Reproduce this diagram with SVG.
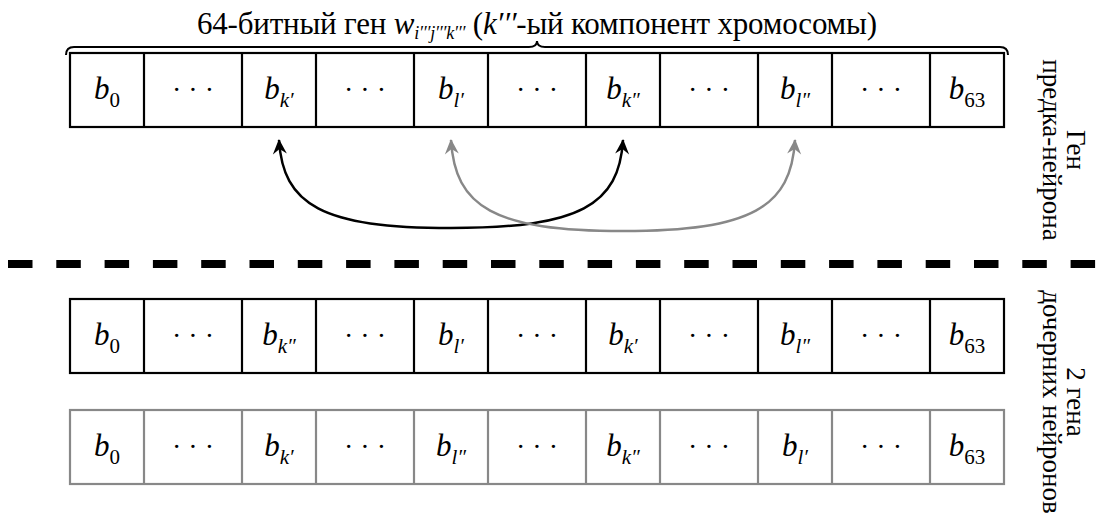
<svg xmlns="http://www.w3.org/2000/svg" width="1098" height="526" viewBox="0 0 1098 526">
<defs>
<marker id="ahb" markerUnits="userSpaceOnUse" markerWidth="20" markerHeight="20" viewBox="-16 -10 20 20" refX="0" refY="0" orient="auto-start-reverse">
<path d="M1,0 L-14,-7 L-9,0 L-14,7 Z" fill="#000"/>
</marker>
<marker id="ahg" markerUnits="userSpaceOnUse" markerWidth="20" markerHeight="20" viewBox="-16 -10 20 20" refX="0" refY="0" orient="auto-start-reverse">
<path d="M1,0 L-14,-7 L-9,0 L-14,7 Z" fill="#888"/>
</marker>
</defs>
<rect width="1098" height="526" fill="#fff"/>

<g id="title">
<text x="537" y="34" font-family="Liberation Serif" font-size="31" text-anchor="middle" textLength="680" lengthAdjust="spacing">64-битный ген <tspan font-style="italic">w</tspan><tspan font-style="italic" font-size="18" dy="5">i′′′j′′′k′′′</tspan><tspan dy="-5"> (</tspan><tspan font-style="italic">k′′′</tspan>-ый компонент хромосомы)</text>
<path d="M66,55 Q66,47 74,47 L529,47 Q537,47 537,41 Q537,47 545,47 L1000,47 Q1008,47 1008,55" fill="none" stroke="#000" stroke-width="2"/>
</g>

<g id="parent" stroke="#000" stroke-width="2.2">
<rect x="70" y="53" width="934" height="74" fill="#fff"/>
<path fill="none" d="M144,53V127M242,53V127M316,53V127M414,53V127M488,53V127M586,53V127M660,53V127M758,53V127M832,53V127M930,53V127"/>
</g>
<g id="parent-labels" text-anchor="middle">
<text x="107" y="99" font-family="Liberation Serif" font-size="31"><tspan font-style="italic">b</tspan><tspan font-size="21" dy="8">0</tspan></text>
<text x="279" y="99" font-family="Liberation Serif" font-size="31"><tspan font-style="italic">b</tspan><tspan font-style="italic" font-size="21" dy="8">k′</tspan></text>
<text x="451" y="99" font-family="Liberation Serif" font-size="31"><tspan font-style="italic">b</tspan><tspan font-style="italic" font-size="21" dy="8">l′</tspan></text>
<text x="623" y="99" font-family="Liberation Serif" font-size="31"><tspan font-style="italic">b</tspan><tspan font-style="italic" font-size="21" dy="8">k″</tspan></text>
<text x="795" y="99" font-family="Liberation Serif" font-size="31"><tspan font-style="italic">b</tspan><tspan font-style="italic" font-size="21" dy="8">l″</tspan></text>
<text x="967" y="99" font-family="Liberation Serif" font-size="31"><tspan font-style="italic">b</tspan><tspan font-size="21" dy="8">63</tspan></text>
<text x="193" y="99" font-family="Liberation Serif" font-size="28">· · ·</text>
<text x="365" y="99" font-family="Liberation Serif" font-size="28">· · ·</text>
<text x="537" y="99" font-family="Liberation Serif" font-size="28">· · ·</text>
<text x="709" y="99" font-family="Liberation Serif" font-size="28">· · ·</text>
<text x="881" y="99" font-family="Liberation Serif" font-size="28">· · ·</text>
</g>

<g id="child1" stroke="#000" stroke-width="2.2">
<rect x="70" y="299" width="934" height="74" fill="#fff"/>
<path fill="none" d="M144,299V373M242,299V373M316,299V373M414,299V373M488,299V373M586,299V373M660,299V373M758,299V373M832,299V373M930,299V373"/>
</g>
<g id="child1-labels" text-anchor="middle">
<text x="107" y="345" font-family="Liberation Serif" font-size="31"><tspan font-style="italic">b</tspan><tspan font-size="21" dy="8">0</tspan></text>
<text x="279" y="345" font-family="Liberation Serif" font-size="31"><tspan font-style="italic">b</tspan><tspan font-style="italic" font-size="21" dy="8">k″</tspan></text>
<text x="451" y="345" font-family="Liberation Serif" font-size="31"><tspan font-style="italic">b</tspan><tspan font-style="italic" font-size="21" dy="8">l′</tspan></text>
<text x="623" y="345" font-family="Liberation Serif" font-size="31"><tspan font-style="italic">b</tspan><tspan font-style="italic" font-size="21" dy="8">k′</tspan></text>
<text x="795" y="345" font-family="Liberation Serif" font-size="31"><tspan font-style="italic">b</tspan><tspan font-style="italic" font-size="21" dy="8">l″</tspan></text>
<text x="967" y="345" font-family="Liberation Serif" font-size="31"><tspan font-style="italic">b</tspan><tspan font-size="21" dy="8">63</tspan></text>
<text x="193" y="345" font-family="Liberation Serif" font-size="28">· · ·</text>
<text x="365" y="345" font-family="Liberation Serif" font-size="28">· · ·</text>
<text x="537" y="345" font-family="Liberation Serif" font-size="28">· · ·</text>
<text x="709" y="345" font-family="Liberation Serif" font-size="28">· · ·</text>
<text x="881" y="345" font-family="Liberation Serif" font-size="28">· · ·</text>
</g>

<g id="child2" stroke="#888" stroke-width="2.2">
<rect x="70" y="410" width="934" height="74" fill="#fff"/>
<path fill="none" d="M144,410V484M242,410V484M316,410V484M414,410V484M488,410V484M586,410V484M660,410V484M758,410V484M832,410V484M930,410V484"/>
</g>
<g id="child2-labels" text-anchor="middle">
<text x="107" y="456" font-family="Liberation Serif" font-size="31"><tspan font-style="italic">b</tspan><tspan font-size="21" dy="8">0</tspan></text>
<text x="279" y="456" font-family="Liberation Serif" font-size="31"><tspan font-style="italic">b</tspan><tspan font-style="italic" font-size="21" dy="8">k′</tspan></text>
<text x="451" y="456" font-family="Liberation Serif" font-size="31"><tspan font-style="italic">b</tspan><tspan font-style="italic" font-size="21" dy="8">l″</tspan></text>
<text x="623" y="456" font-family="Liberation Serif" font-size="31"><tspan font-style="italic">b</tspan><tspan font-style="italic" font-size="21" dy="8">k″</tspan></text>
<text x="795" y="456" font-family="Liberation Serif" font-size="31"><tspan font-style="italic">b</tspan><tspan font-style="italic" font-size="21" dy="8">l′</tspan></text>
<text x="967" y="456" font-family="Liberation Serif" font-size="31"><tspan font-style="italic">b</tspan><tspan font-size="21" dy="8">63</tspan></text>
<text x="193" y="456" font-family="Liberation Serif" font-size="28">· · ·</text>
<text x="365" y="456" font-family="Liberation Serif" font-size="28">· · ·</text>
<text x="537" y="456" font-family="Liberation Serif" font-size="28">· · ·</text>
<text x="709" y="456" font-family="Liberation Serif" font-size="28">· · ·</text>
<text x="881" y="456" font-family="Liberation Serif" font-size="28">· · ·</text>
</g>

<g id="connectors" fill="none" stroke-width="2.5">
<path stroke="#000" d="M279,140 C283,205 322,228 451,228 C580,228 619,205 623,140" marker-start="url(#ahb)" marker-end="url(#ahb)"/>
<path stroke="#888" d="M451,140 C455,207 494,231 623,231 C752,231 791,207 795,140" marker-start="url(#ahg)" marker-end="url(#ahg)"/>
</g>

<g id="separator">
<path d="M8,264 H1098" stroke="#000" stroke-width="8" stroke-dasharray="24.5 23.8" fill="none"/>
</g>

<g id="label-parent" text-anchor="middle">
<text font-family="Liberation Serif" font-size="27" transform="translate(1067,150) rotate(90)">Ген</text>
<text font-family="Liberation Serif" font-size="27" transform="translate(1043,150) rotate(90)">предка-нейрона</text>
</g>
<g id="label-children" text-anchor="middle">
<text font-family="Liberation Serif" font-size="27" transform="translate(1067,402) rotate(90)">2 гена</text>
<text font-family="Liberation Serif" font-size="27" transform="translate(1043,402) rotate(90)">дочерних нейронов</text>
</g>
</svg>
